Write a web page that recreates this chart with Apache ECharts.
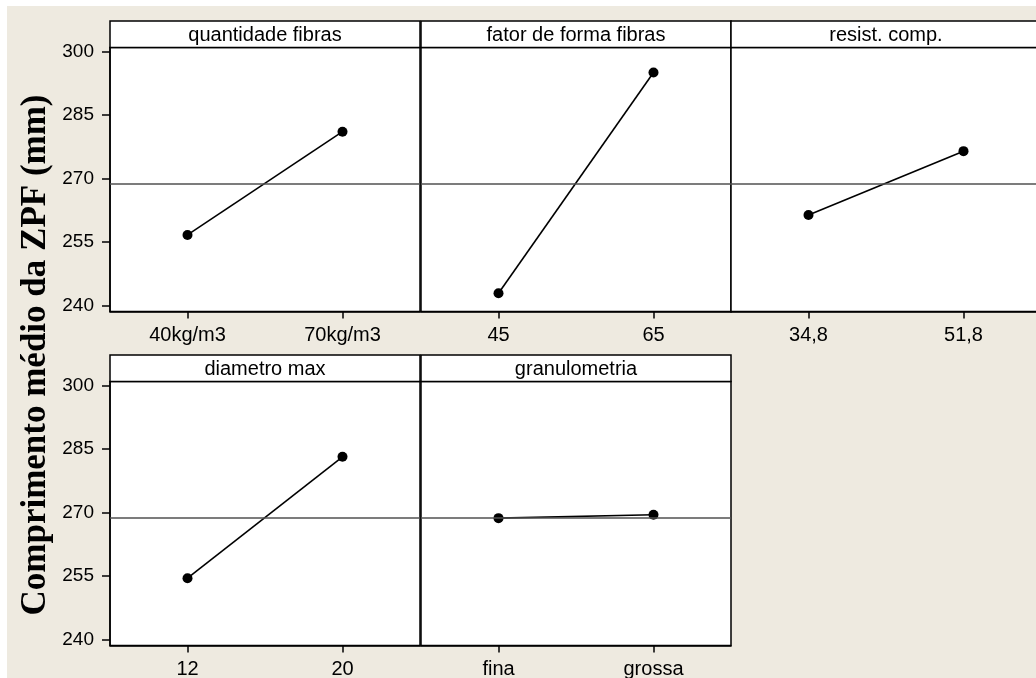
<!DOCTYPE html>
<html>
<head>
<meta charset="utf-8">
<script src="https://cdn.jsdelivr.net/npm/echarts@6/dist/echarts.min.js"></script>
<style>
  html, body { margin: 0; padding: 0; background: #ffffff; }
  #wrap { position: relative; width: 1036px; height: 678px; overflow: hidden; }
  #paper { position: absolute; left: 7px; top: 6px; right: 0; bottom: 0; background: #EEEAE0; }
  #chart { position: absolute; left: 0; top: 0; width: 1036px; height: 678px; }
</style>
</head>
<body>
<div id="wrap"><div id="paper"></div><div id="chart"></div></div>
<script>
// Main effects: mean ZPF length at each factor level
const factorNames = ['quantidade fibras', 'fator de forma fibras', 'resist. comp.', 'diametro max', 'granulometria'];
const levelLabels = [
  ['40kg/m3', '70kg/m3'],
  ['45', '65'],
  ['34,8', '51,8'],
  ['12', '20'],
  ['fina', 'grossa']
];
const levelMeans = [
  [256.7, 281.1],
  [242.9, 295.1],
  [261.4, 276.5],
  [254.5, 283.2],
  [268.7, 269.5]
];
const grandMean = 268.9;
const yTicks = [240, 255, 270, 285, 300];
const yTitle = 'Comprimento médio da ZPF (mm)';

// Panel layout (pixels)
const panelW = 310, headerH = 26.5, plotH = 264;
const rowTop = [21, 355];
const colLeft = [110, 421, 731];
const panelCell = [[0, 0], [0, 1], [0, 2], [1, 0], [1, 1]];
const yMin = 238.6, yMax = 301.0;

const sansFont = '"Liberation Sans", Arial, sans-serif';

const grids = [], xAxes = [], yAxes = [], series = [], graphics = [];

panelCell.forEach(([r, c], i) => {
  const left = colLeft[c], top = rowTop[r];
  grids.push({
    left: left, top: top + headerH, width: panelW, height: plotH,
    show: true, backgroundColor: '#ffffff', borderColor: '#000000', borderWidth: 1.5,
    containLabel: false, outerBoundsMode: 'none'
  });
  xAxes.push({
    type: 'category', gridIndex: i, data: levelLabels[i], boundaryGap: true,
    axisLine: { show: true, lineStyle: { color: '#000', width: 1.5 } },
    axisTick: { show: true, alignWithLabel: true, length: 7, lineStyle: { color: '#000', width: 1.5 } },
    axisLabel: { color: '#000', fontFamily: sansFont, fontSize: 20, margin: 14 },
    splitLine: { show: false }
  });
  const isLeft = c === 0;
  yAxes.push({
    type: 'value', gridIndex: i, min: yMin, max: yMax,
    axisLine: { show: isLeft, lineStyle: { color: '#000', width: 1.5 } },
    axisTick: { show: isLeft, length: 8, customValues: yTicks, lineStyle: { color: '#000', width: 1.5 } },
    axisLabel: { show: isLeft, customValues: yTicks, color: '#000', fontFamily: sansFont, fontSize: 19, margin: 16 },
    splitLine: { show: false }
  });
  series.push({
    type: 'line', xAxisIndex: i, yAxisIndex: i, data: levelMeans[i],
    symbol: 'circle', symbolSize: 10,
    itemStyle: { color: '#000' },
    lineStyle: { color: '#000', width: 1.6 },
    animation: false,
    markLine: {
      silent: true, symbol: 'none', animation: false,
      label: { show: false },
      lineStyle: { color: '#505050', width: 1.5, type: 'solid' },
      data: [{ yAxis: grandMean }]
    },
    z: 3
  });
  // header strip with factor name
  graphics.push({
    type: 'rect', shape: { x: left, y: top, width: panelW, height: headerH },
    style: { fill: '#ffffff', stroke: '#000000', lineWidth: 1.5 }, z: 10
  });
  graphics.push({
    type: 'text', x: left + panelW / 2, y: top + headerH / 2 + 1,
    style: { text: factorNames[i], fill: '#000', font: '20px ' + sansFont, textAlign: 'center', textVerticalAlign: 'middle' },
    z: 11
  });
});

graphics.push({
  type: 'text', x: 36, y: 355, rotation: Math.PI / 2,
  style: { text: yTitle, fill: '#000', font: 'bold 35px "Liberation Serif", "Times New Roman", serif', textAlign: 'center', textVerticalAlign: 'middle' },
  z: 11
});

const chart = echarts.init(document.getElementById('chart'), null, { renderer: 'canvas' });
chart.setOption({
  backgroundColor: 'transparent',
  animation: false,
  grid: grids,
  xAxis: xAxes,
  yAxis: yAxes,
  series: series,
  graphic: graphics
});
</script>
</body>
</html>
